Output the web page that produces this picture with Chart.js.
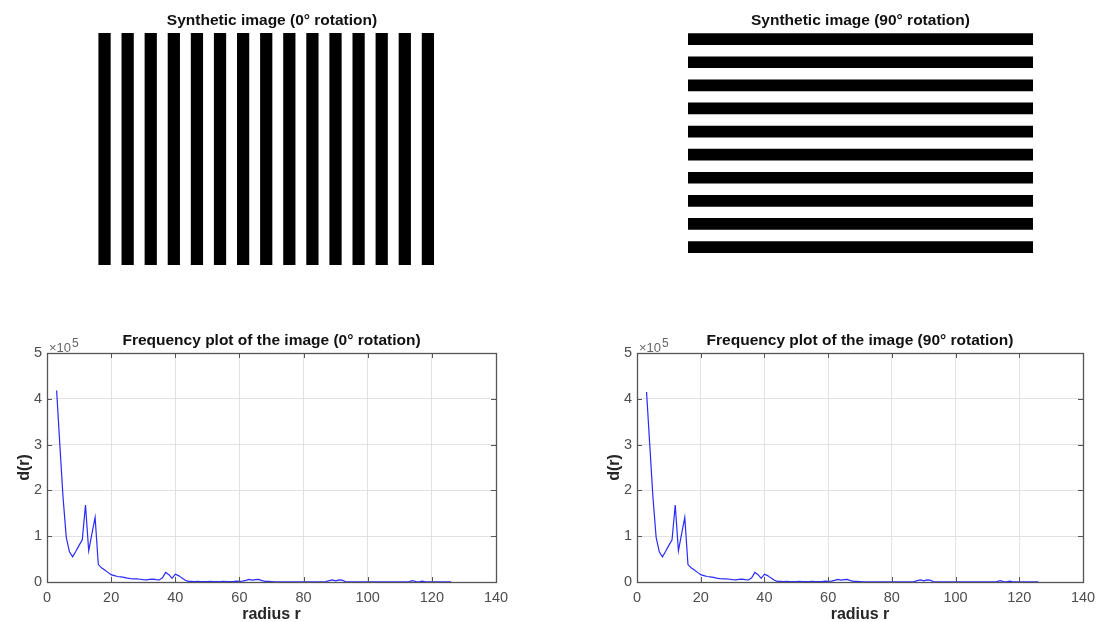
<!DOCTYPE html>
<html>
<head>
<meta charset="utf-8">
<script src="https://cdn.jsdelivr.net/npm/chart.js@4.4.0/dist/chart.umd.min.js"></script>
<style>
  html, body { margin: 0; padding: 0; background: #fff; overflow: hidden; }
  body { width: 1097px; height: 622px; position: relative; }
  canvas { position: absolute; }
</style>
</head>
<body>
<canvas id="img0" width="384" height="280" style="left:80px;top:0"></canvas>
<canvas id="img90" width="381" height="280" style="left:670px;top:0"></canvas>
<canvas id="freq0" width="520" height="310" style="left:0;top:322px"></canvas>
<canvas id="freq90" width="520" height="310" style="left:590px;top:322px"></canvas>
<script>
// stripes of the synthetic images (each bar spans the full image height / width)
const stripePos0 = [0, 1, 2, 3, 4, 5, 6, 7, 8, 9, 10, 11, 12, 13, 14];
const stripeSpan0 = [[0, 1], [0, 1], [0, 1], [0, 1], [0, 1], [0, 1], [0, 1], [0, 1], [0, 1], [0, 1], [0, 1], [0, 1], [0, 1], [0, 1], [0, 1]];
const stripes90 = ['1', '2', '3', '4', '5', '6', '7', '8', '9', '10'];
const stripeSpan90 = [[0, 1], [0, 1], [0, 1], [0, 1], [0, 1], [0, 1], [0, 1], [0, 1], [0, 1], [0, 1]];

// radial frequency profile d(r)
const radius = [3, 4, 5, 6, 7, 8, 9, 10, 11, 12, 13, 14, 15, 16, 17, 18, 19, 20, 21, 22,
  23, 24, 25, 26, 27, 28, 29, 30, 31, 32, 33, 34, 35, 36, 37, 38, 39, 40, 41, 42,
  43, 44, 45, 46, 47, 48, 49, 50, 51, 52, 53, 54, 55, 56, 57, 58, 59, 60, 61, 62,
  63, 64, 65, 66, 67, 68, 69, 70, 71, 72, 73, 74, 75, 76, 77, 78, 79, 80, 81, 82,
  83, 84, 85, 86, 87, 88, 89, 90, 91, 92, 93, 94, 95, 96, 97, 98, 99, 100, 101, 102,
  103, 104, 105, 106, 107, 108, 109, 110, 111, 112, 113, 114, 115, 116, 117, 118, 119, 120, 121, 122,
  123, 124, 125, 126];
const dRot0 = [418000, 300000, 185000, 98000, 66000, 55000, 67000, 80000, 92000, 168000, 68000, 105000, 141000, 38000, 31000, 26000, 21000, 16000, 14000, 12000,
  11000, 10000, 8500, 7500, 7000, 6800, 6000, 5000, 4800, 5800, 6200, 5200, 4500, 9000, 21000, 16000, 8000, 17000, 14000, 9000,
  4500, 1500, 1200, 1000, 1200, 1000, 1100, 1000, 1200, 1000, 1100, 1000, 1200, 1000, 1100, 800, 2000, 1200, 2000, 3500,
  5500, 4000, 5000, 5500, 3000, 1500, 1200, 1000, 400, 300, 300, 300, 300, 300, 300, 300, 300, 300, 300, 300,
  300, 300, 300, 300, 1000, 3000, 4500, 2500, 4500, 4000, 1000, 300, 300, 300, 300, 300, 300, 300, 300, 300,
  300, 300, 300, 300, 300, 300, 300, 300, 300, 300, 800, 3000, 1000, 400, 2000, 400, 300, 300, 300, 300,
  300, 300, 300, 300];
const dRot90 = [415000, 300000, 185000, 98000, 66000, 55000, 67000, 80000, 92000, 168000, 68000, 105000, 141000, 38000, 31000, 26000, 21000, 16000, 14000, 12000,
  11000, 10000, 8500, 7500, 7000, 6800, 6000, 5000, 4800, 5800, 6200, 5200, 4500, 9000, 21000, 16000, 8000, 17000, 14000, 9000,
  4500, 1500, 1200, 1000, 1200, 1000, 1100, 1000, 1200, 1000, 1100, 1000, 1200, 1000, 1100, 800, 2000, 1200, 2000, 3500,
  5500, 4000, 5000, 5500, 3000, 1500, 1200, 1000, 400, 300, 300, 300, 300, 300, 300, 300, 300, 300, 300, 300,
  300, 300, 300, 300, 1000, 3000, 4500, 2500, 4500, 4000, 1000, 300, 300, 300, 300, 300, 300, 300, 300, 300,
  300, 300, 300, 300, 300, 300, 300, 300, 300, 300, 800, 3000, 1000, 400, 2000, 400, 300, 300, 300, 300,
  300, 300, 300, 300];
const radiusTicks = [0, 20, 40, 60, 80, 100, 120, 140];
const dTicks = [0, 1, 2, 3, 4, 5];

Chart.defaults.font.family = '"Liberation Sans", Arial, sans-serif';
Chart.defaults.animation = false;

// matlab style frame: box, inward ticks and the x10^5 multiplier
const axesBox = {
  id: 'axesBox',
  afterDraw(chart) {
    const {ctx, chartArea: a, scales: {x, y}} = chart;
    ctx.save();
    ctx.strokeStyle = '#555';
    ctx.lineWidth = 1;
    ctx.beginPath();
    x.ticks.forEach(t => {
      const px = Math.round(x.getPixelForValue(t.value)) + 0.5;
      ctx.moveTo(px, a.bottom); ctx.lineTo(px, a.bottom - 5);
      ctx.moveTo(px, a.top); ctx.lineTo(px, a.top + 5);
    });
    y.ticks.forEach(t => {
      const py = Math.round(y.getPixelForValue(t.value)) + 0.5;
      ctx.moveTo(a.left, py); ctx.lineTo(a.left + 5, py);
      ctx.moveTo(a.right, py); ctx.lineTo(a.right - 5, py);
    });
    ctx.stroke();
    ctx.lineWidth = 1.3;
    ctx.strokeRect(Math.round(a.left) + 0.5, Math.round(a.top) + 0.5, Math.round(a.right - a.left), Math.round(a.bottom - a.top));
    ctx.fillStyle = '#666';
    ctx.font = '13px "Liberation Sans", Arial, sans-serif';
    ctx.textBaseline = 'alphabetic';
    ctx.fillText('\u00d710', a.left + 2, a.top - 1.5);
    const w = ctx.measureText('\u00d710').width;
    ctx.font = '12px "Liberation Sans", Arial, sans-serif';
    ctx.fillText('5', a.left + 3 + w, a.top - 6);
    ctx.restore();
  }
};

const titleFont = {size: 15.5, weight: 'bold'};

// vertical stripes, placed on a linear axis so the image can keep its white right margin
new Chart(document.getElementById('img0'), {
  type: 'bar',
  data: {
    datasets: [{
      data: stripePos0.map((p, i) => ({x: p, y: stripeSpan0[i]})),
      backgroundColor: '#000',
      borderWidth: 0,
      barPercentage: 0.53,
      categoryPercentage: 1
    }]
  },
  options: {
    responsive: false,
    layout: {padding: {left: 13, right: 13, bottom: 15}},
    plugins: {
      legend: {display: false},
      tooltip: {enabled: false},
      title: {display: true, text: 'Synthetic image (0\u00b0 rotation)', color: '#111', font: titleFont, padding: {top: 11, bottom: 3.4}}
    },
    scales: {
      x: {type: 'linear', min: -0.5, max: 15, offset: false, display: false, ticks: {stepSize: 1, includeBounds: false}},
      y: {type: 'linear', min: 0, max: 1, display: false}
    }
  }
});

// horizontal stripes
new Chart(document.getElementById('img90'), {
  type: 'bar',
  data: {
    labels: stripes90,
    datasets: [{
      data: stripeSpan90,
      backgroundColor: '#000',
      borderWidth: 0,
      barPercentage: 0.506,
      categoryPercentage: 1
    }]
  },
  options: {
    responsive: false,
    indexAxis: 'y',
    layout: {padding: {left: 18, right: 18, bottom: 21.4}},
    plugins: {
      legend: {display: false},
      tooltip: {enabled: false},
      title: {display: true, text: 'Synthetic image (90\u00b0 rotation)', color: '#111', font: titleFont, padding: {top: 11, bottom: -2}}
    },
    scales: {
      x: {type: 'linear', min: 0, max: 1, display: false},
      y: {type: 'category', display: false}
    }
  }
});

function freqChart(id, title, values, padRight) {
  return new Chart(document.getElementById(id), {
    type: 'line',
    data: {
      labels: radius,
      datasets: [{
        data: values,
        borderColor: '#2a2aff',
        borderWidth: 1.2,
        pointRadius: 0,
        tension: 0
      }]
    },
    options: {
      responsive: false,
      layout: {padding: {right: padRight}},
      plugins: {
        legend: {display: false},
        tooltip: {enabled: false},
        title: {display: true, text: title, fullSize: false, color: '#111', font: titleFont, padding: {top: 9, bottom: 3.4}}
      },
      scales: {
        x: {
          type: 'linear', min: 0, max: 140,
          afterBuildTicks: s => { s.ticks = radiusTicks.map(v => ({value: v})); },
          ticks: {color: '#4d4d4d', font: {size: 14.5}, padding: 7, maxRotation: 0},
          grid: {color: '#e2e2e2', drawTicks: false},
          border: {display: false},
          title: {display: true, text: 'radius r', color: '#262626', font: {size: 16, weight: 'bold'}, padding: {top: 0, bottom: 7.4}},
          afterFit(s) { s.height = 50; }
        },
        y: {
          min: 0, max: 500000,
          afterBuildTicks: s => { s.ticks = dTicks.map(v => ({value: v * 100000})); },
          ticks: {color: '#4d4d4d', font: {size: 14.5}, padding: 5, callback: v => v / 100000},
          grid: {color: '#e2e2e2', drawTicks: false},
          border: {display: false},
          title: {display: true, text: 'd(r)', color: '#262626', font: {size: 16, weight: 'bold'}, padding: {top: 15, bottom: 0}},
          afterFit(s) { s.width = 47; }
        }
      }
    },
    plugins: [axesBox]
  });
}

freqChart('freq0', 'Frequency plot of the image (0\u00b0 rotation)', dRot0, 24);
freqChart('freq90', 'Frequency plot of the image (90\u00b0 rotation)', dRot90, 27);
</script>
</body>
</html>
